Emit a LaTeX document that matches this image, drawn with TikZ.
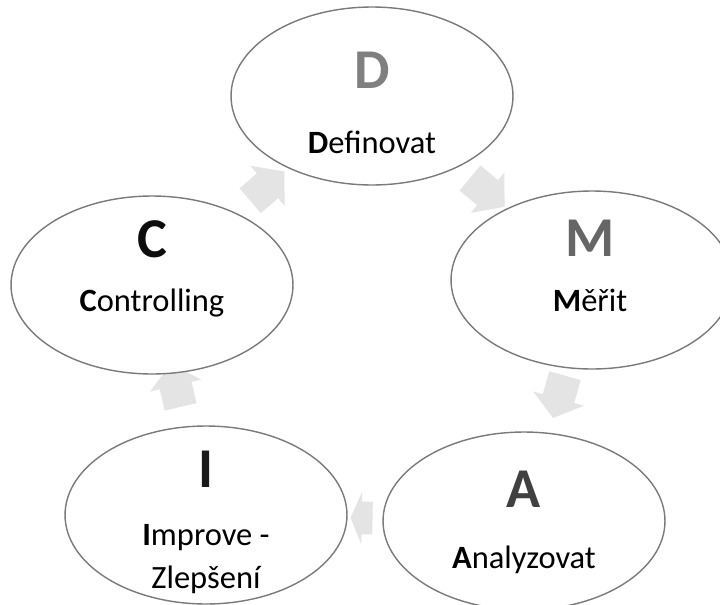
\documentclass[tikz,border=0pt]{standalone}
\usepackage{fontspec}
\setmainfont{Carlito}
\usetikzlibrary{shapes.geometric,shapes.arrows,backgrounds}

\definecolor{ringgray}{HTML}{7A7A7A}
\definecolor{arrowgray}{HTML}{E4E4E4}
\definecolor{dgray}{HTML}{808080}
\definecolor{mgray}{HTML}{666666}
\definecolor{agray}{HTML}{404040}
\definecolor{igray}{HTML}{1A1A1A}
\definecolor{cgray}{HTML}{0D0D0D}

\begin{document}
\begin{tikzpicture}[x=0.02cm,y=-0.02cm,
    main_node/.style={ellipse,draw=ringgray,line width=0.8pt,fill=white,minimum width=5.64cm,minimum height=3.56cm,inner sep=0pt},
    letter_node/.style={font=\fontsize{32}{34}\selectfont\bfseries,anchor=base,inner sep=0pt},
    label_node/.style={font=\fontsize{18.5}{22}\selectfont,anchor=base,inner sep=0pt},
    block_arrow/.style={single arrow,fill=arrowgray,draw=none,inner xsep=0pt,inner ysep=0.32cm,single arrow head extend=0.2cm,sloped,allow upside down,midway}]

    \useasboundingbox (0,0) rectangle (720,605);

    \node[main_node] (D) at (372,96)  {};
    \node[main_node] (M) at (592,280) {};
    \node[main_node] (A) at (524,521) {};
    \node[main_node] (I) at (206,515) {};
    \node[main_node] (C) at (152,285) {};

    \node[letter_node,text=dgray] (D_letter) at (372,88)  {D};
    \node[letter_node,text=mgray] (M_letter) at (590,256) {M};
    \node[letter_node,text=agray] (A_letter) at (524,507) {A};
    \node[letter_node,text=igray] (I_letter) at (206,487) {I};
    \node[letter_node,text=cgray] (C_letter) at (152,257) {C};

    \node[label_node] (D_label) at (372,153) {\textbf{D}efinovat};
    \node[label_node] (M_label) at (590,311) {\textbf{M}ěřit};
    \node[label_node] (A_label) at (524,568) {\textbf{A}nalyzovat};
    \node[label_node] (I_label) at (206,545) {\textbf{I}mprove -};
    \node[label_node] (I_label2) at (206,588) {Zlepšení};
    \node[label_node] (C_label) at (152,311) {\textbf{C}ontrolling};

    \begin{pgfonlayer}{background}
    \path
    (D) -- (M) node[block_arrow,minimum height=0.9cm,single arrow tip angle=100] {}
    (M) -- (A) node[block_arrow,pos=.35,minimum height=0.88cm,single arrow tip angle=105] {}
    (A) -- (I) node[block_arrow,minimum height=0.44cm,single arrow tip angle=134] {}
    (I) -- (C) node[block_arrow,pos=.65,minimum height=0.88cm,single arrow tip angle=100] {}
    (C) -- (D) node[block_arrow,minimum height=0.9cm,single arrow tip angle=100] {};
    \end{pgfonlayer}

%   \draw[red] (0,0) grid[step=50] (720,605);
\end{tikzpicture}
\end{document}
